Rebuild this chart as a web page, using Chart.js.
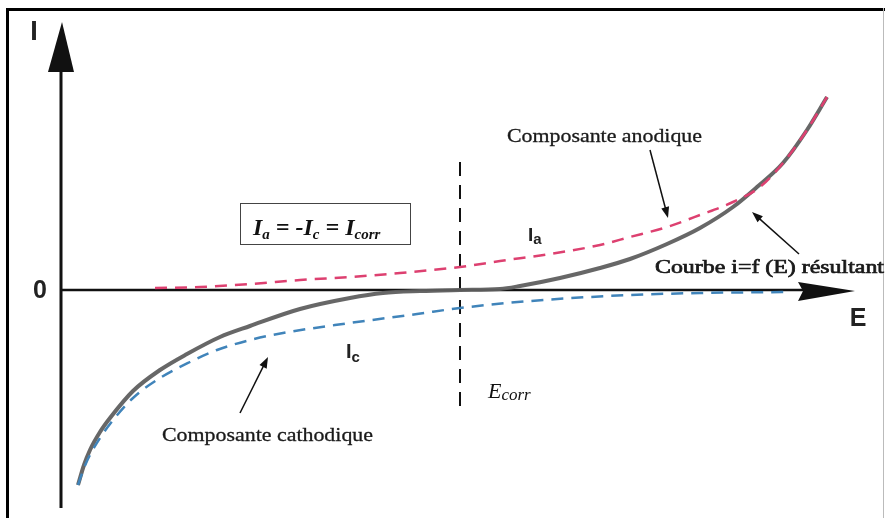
<!DOCTYPE html>
<html>
<head>
<meta charset="utf-8">
<script src="https://cdn.jsdelivr.net/npm/chart.js@4.4.0/dist/chart.umd.min.js"></script>
<style>
html, body { margin: 0; padding: 0; background: #fff; }
canvas { display: block; }
</style>
</head>
<body>
<canvas id="myChart" width="885" height="518"></canvas>
<script>
// courbe resultante i = f(E)
var potResultante = [1.7, 2.3, 2.9, 3.9, 4.9, 7.2, 9.9, 12.6, 15.9, 18.9, 23.9, 28.9, 32.2, 35.9, 39.9, 43.9, 45.9, 49.9, 53.9, 56.9, 60.6, 63.9, 67.2, 69.6, 72.2, 74.6, 76.6];
var courResultante = [-19.5, -17.5, -16.0, -14.2, -12.8, -10.1, -8.0, -6.4, -4.7, -3.6, -1.9, -0.8, -0.3, -0.1, 0, 0.1, 0.4, 1.2, 2.2, 3.1, 4.6, 6.2, 8.3, 10.3, 12.7, 16.0, 19.3];

// composante anodique
var potAnodique = [9.4, 13.9, 18.9, 23.9, 28.9, 33.9, 39.9, 43.9, 48.9, 53.9, 56.9, 60.6, 63.9, 67.2, 69.9, 72.2, 74.6, 76.6];
var courAnodique = [0.2, 0.3, 0.6, 1.0, 1.3, 1.7, 2.3, 2.9, 3.6, 4.5, 5.3, 6.3, 7.5, 8.8, 10.3, 12.7, 16.0, 19.3];

// composante cathodique
var potCathodique = [1.7, 2.3, 2.9, 3.9, 4.9, 7.2, 9.9, 12.9, 15.6, 18.9, 22.2, 28.9, 35.6, 39.9, 46.9, 56.9, 63.9, 72.4];
var courCathodique = [-19.5, -17.8, -16.5, -14.8, -13.4, -10.8, -8.8, -7.2, -6.0, -5.0, -4.3, -3.3, -2.4, -1.8, -1.1, -0.5, -0.3, -0.2];

// potentiel de corrosion
var eCorr = 39.9;

function punti(xs, ys) {
    return xs.map(function (x, i) { return { x: x, y: ys[i] }; });
}

function freccia(ctx, x1, y1, x2, y2) {
    var ang = Math.atan2(y2 - y1, x2 - x1);
    ctx.strokeStyle = "#111";
    ctx.fillStyle = "#111";
    ctx.lineWidth = 1.5;
    ctx.beginPath();
    ctx.moveTo(x1, y1);
    ctx.lineTo(x2 - 8 * Math.cos(ang), y2 - 8 * Math.sin(ang));
    ctx.stroke();
    ctx.beginPath();
    ctx.moveTo(x2, y2);
    ctx.lineTo(x2 - 11 * Math.cos(ang) + 4 * Math.sin(ang), y2 - 11 * Math.sin(ang) - 4 * Math.cos(ang));
    ctx.lineTo(x2 - 11 * Math.cos(ang) - 4 * Math.sin(ang), y2 - 11 * Math.sin(ang) + 4 * Math.cos(ang));
    ctx.closePath();
    ctx.fill();
}

// testo allungato alla larghezza voluta
function testo(ctx, str, x, y, font, larg, spessore) {
    ctx.save();
    ctx.font = font;
    ctx.textAlign = "left";
    ctx.textBaseline = "alphabetic";
    var w = ctx.measureText(str).width;
    ctx.translate(x, y);
    ctx.scale(larg / w, 1);
    ctx.fillText(str, 0, 0);
    if (spessore) {
        ctx.strokeStyle = ctx.fillStyle;
        ctx.lineWidth = spessore;
        ctx.strokeText(str, 0, 0);
    }
    ctx.restore();
}

// testo con pedici
function pedici(ctx, parti, x, y) {
    ctx.textAlign = "left";
    ctx.textBaseline = "alphabetic";
    parti.forEach(function (p) {
        ctx.font = p[1];
        ctx.fillText(p[0], x, y + p[2]);
        x += ctx.measureText(p[0]).width;
    });
}

var assi = {
    id: "assi",
    beforeDatasetsDraw: function (chart) {
        var ctx = chart.ctx;
        var sx = chart.scales.x, sy = chart.scales.y;
        var x0 = sx.getPixelForValue(0), y0 = sy.getPixelForValue(0);
        ctx.save();
        // cornice
        ctx.fillStyle = "#000";
        ctx.fillRect(6, 8, 879, 3);
        ctx.fillRect(6, 8, 3, 510);
        ctx.fillStyle = "#bbb";
        ctx.fillRect(883, 8, 1, 510);
        // asse I
        ctx.fillStyle = "#111";
        ctx.strokeStyle = "#111";
        ctx.lineWidth = 3;
        ctx.beginPath();
        ctx.moveTo(x0, sy.bottom);
        ctx.lineTo(x0, sy.top + 40);
        ctx.stroke();
        ctx.beginPath();
        ctx.moveTo(x0 + 1, sy.top);
        ctx.lineTo(x0 + 13, sy.top + 50);
        ctx.lineTo(x0 - 13, sy.top + 50);
        ctx.closePath();
        ctx.fill();
        // asse E
        ctx.lineWidth = 2.5;
        ctx.beginPath();
        ctx.moveTo(x0, y0);
        ctx.lineTo(sx.right - 40, y0);
        ctx.stroke();
        ctx.beginPath();
        ctx.moveTo(sx.right, y0 + 1);
        ctx.lineTo(sx.right - 57, y0 - 8);
        ctx.lineTo(sx.right - 52, y0 + 1);
        ctx.lineTo(sx.right - 57, y0 + 11);
        ctx.closePath();
        ctx.fill();
        // Ecorr
        var xc = sx.getPixelForValue(eCorr);
        ctx.lineWidth = 2;
        ctx.setLineDash([14, 9]);
        ctx.beginPath();
        ctx.moveTo(xc, sy.getPixelForValue(12.8));
        ctx.lineTo(xc, sy.getPixelForValue(-11.6));
        ctx.stroke();
        ctx.restore();
    },
    afterDraw: function (chart) {
        var ctx = chart.ctx;
        ctx.save();
        ctx.fillStyle = "#222";
        ctx.textAlign = "center";
        ctx.textBaseline = "middle";
        ctx.font = "bold 27px 'Liberation Sans', Arial, sans-serif";
        ctx.fillText("I", 34, 33);
        ctx.font = "bold 25px 'Liberation Sans', Arial, sans-serif";
        ctx.fillText("0", 40, 291);
        ctx.fillText("E", 858, 319);

        // Ia, Ic
        ctx.fillStyle = "#222";
        pedici(ctx, [["I", "bold 19px 'Liberation Sans', sans-serif", 0], ["a", "bold 15px 'Liberation Sans', sans-serif", 3]], 528, 241);
        pedici(ctx, [["I", "bold 20px 'Liberation Sans', sans-serif", 0], ["c", "bold 15px 'Liberation Sans', sans-serif", 4]], 346, 358);

        // Ecorr
        ctx.fillStyle = "#111";
        pedici(ctx, [["E", "italic 22px 'Liberation Serif', serif", 0], ["corr", "italic 17px 'Liberation Serif', serif", 2]], 488, 398);

        // riquadro
        ctx.strokeStyle = "#444";
        ctx.lineWidth = 1;
        ctx.strokeRect(240.5, 203.5, 170, 41);
        var fb = "bold italic 24px 'Liberation Serif', serif";
        var fs = "bold italic 15px 'Liberation Serif', serif";
        pedici(ctx, [["I", fb, 0], ["a", fs, 4], [" = -", fb, 0], ["I", fb, 0], ["c", fs, 4], [" = ", fb, 0], ["I", fb, 0], ["corr", fs, 4]], 253, 235);

        // etichette
        ctx.fillStyle = "#1a1a1a";
        testo(ctx, "Composante anodique", 507, 142, "19px 'Liberation Serif', serif", 195, 0.3);
        testo(ctx, "Courbe i=f (E) résultant", 655, 273, "19px 'Liberation Serif', serif", 229, 0.7);
        testo(ctx, "Composante cathodique", 162, 441, "19px 'Liberation Serif', serif", 211, 0.3);

        freccia(ctx, 650, 150, 668, 218);
        freccia(ctx, 799, 254, 752, 212);
        freccia(ctx, 240, 413, 268, 357);
        ctx.restore();
    }
};

var ctx = document.getElementById("myChart");
var myChart = new Chart(ctx, {
    type: "scatter",
    data: {
        datasets: [
            {
                label: "Composante cathodique",
                data: punti(potCathodique, courCathodique),
                showLine: true,
                borderColor: "rgb(64, 132, 186)",
                borderWidth: 2.5,
                borderDash: [12, 8],
                pointRadius: 0,
                cubicInterpolationMode: "monotone"
            },
            {
                label: "Composante anodique",
                data: punti(potAnodique, courAnodique),
                showLine: true,
                borderColor: "rgb(221, 64, 112)",
                borderWidth: 2.5,
                borderDash: [12, 8],
                pointRadius: 0,
                cubicInterpolationMode: "monotone"
            },
            {
                label: "Courbe i=f (E) résultant",
                data: punti(potResultante, courResultante),
                showLine: true,
                borderColor: "rgba(95, 95, 95, 0.95)",
                borderWidth: 4,
                pointRadius: 0,
                cubicInterpolationMode: "monotone"
            }
        ]
    },
    options: {
        responsive: false,
        animation: false,
        layout: { padding: { left: 61, right: 30, top: 22, bottom: 10 } },
        plugins: { legend: { display: false }, tooltip: { enabled: false } },
        scales: {
            x: { type: "linear", min: 0, max: 79.4, display: false },
            y: { type: "linear", min: -21.8, max: 26.8, display: false }
        }
    },
    plugins: [assi]
});
</script>
</body>
</html>
